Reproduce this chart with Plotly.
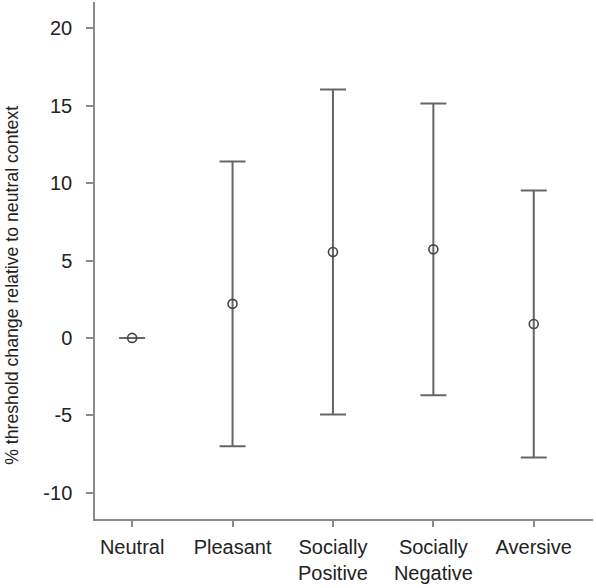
import plotly.graph_objects as go

categories = ["Neutral", "Pleasant", "Socially<br>Positive", "Socially<br>Negative", "Aversive"]
means = [0.0, 2.2, 5.55, 5.72, 0.9]
errors = [0.0, 9.2, 10.5, 9.42, 8.62]
y_ticks = [-10, -5, 0, 5, 10, 15, 20]
y_tick_labels = ["-10", "-5", "0", "5", "10", "15", "20"]

LINE = "#666666"
AXIS = "#8a8a8a"
FONT = "Liberation Sans, Arial, sans-serif"

fig = go.Figure()
fig.add_trace(go.Scatter(
    x=categories, y=means, mode="markers",
    marker=dict(symbol="circle-open", size=9, color="#444444", line=dict(width=1.6, color="#444444")),
    error_y=dict(type="data", array=errors, visible=True, color=LINE, thickness=2, width=13),
    showlegend=False,
))

fig.update_layout(
    width=596, height=588,
    margin=dict(l=95, r=3, t=2, b=69, autoexpand=False),
    plot_bgcolor="white", paper_bgcolor="white",
    font=dict(family=FONT, size=20, color="#222222"),
    xaxis=dict(
        type="category", range=[-0.37, 4.59], automargin=False,
        showline=True, linecolor=AXIS, linewidth=1.5,
        ticks="outside", ticklen=6, tickcolor=AXIS, tickwidth=1.5,
        ticklabelstandoff=3,
        showgrid=False, zeroline=False,
        tickfont=dict(family=FONT, size=20, color="#222222"),
    ),
    yaxis=dict(
        range=[-11.7, 21.7], tickvals=y_ticks, ticktext=y_tick_labels, automargin=False,
        showline=True, linecolor=AXIS, linewidth=1.5,
        ticks="outside", ticklen=7, tickcolor=AXIS, tickwidth=1.5,
        ticklabelstandoff=10,
        showgrid=False, zeroline=False,
        tickfont=dict(family=FONT, size=20, color="#222222"),
    ),
    annotations=[dict(
        text="% threshold change relative to neutral context",
        xref="paper", yref="paper", x=-0.167, y=0.4526,
        xanchor="center", yanchor="middle", textangle=-90, showarrow=False,
        font=dict(family=FONT, size=17.7, color="#222222"),
    )],
)

fig.write_html("out.html", config={"displayModeBar": False},
               post_script="document.body.style.margin='0';")
